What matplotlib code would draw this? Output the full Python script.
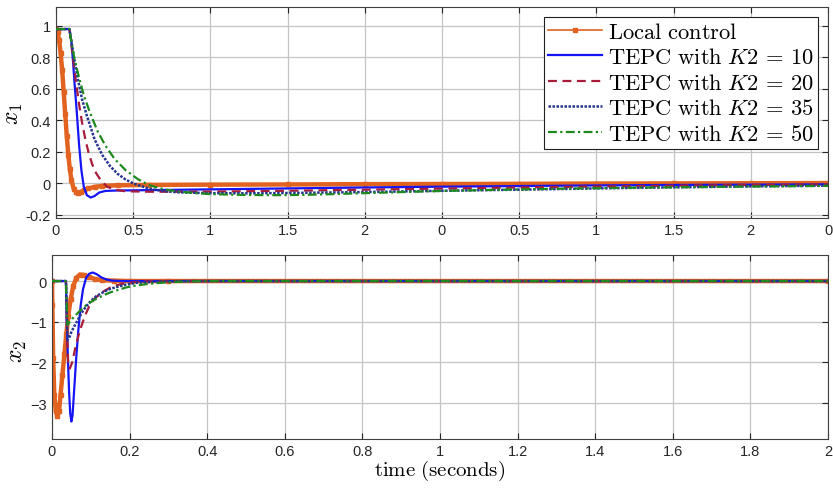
import matplotlib
matplotlib.use('Agg')
import matplotlib.pyplot as plt
from matplotlib.lines import Line2D

plt.rcParams['font.family'] = ['Liberation Sans', 'DejaVu Sans']
plt.rcParams['mathtext.fontset'] = 'cm'

# state x1 (upper panel, 0..5 on the axis, labels wrap every 2.5)
t1_local = [0, 0.01, 0.02, 0.03, 0.04, 0.05, 0.06, 0.07, 0.08, 0.09, 0.1, 0.115, 0.13, 0.145,
            0.16, 0.18, 0.21, 0.25, 0.3, 0.4, 0.6, 1.0, 1.5, 2.0, 2.5, 3.0, 3.5, 4.0, 4.5, 5.0]
x1_local = [0.98, 0.96, 0.91, 0.83, 0.72, 0.58, 0.44, 0.3, 0.18, 0.09, 0.02, -0.035, -0.055, -0.06,
            -0.055, -0.045, -0.032, -0.022, -0.016, -0.012, -0.01, -0.008, -0.007, -0.005, -0.004,
            -0.003, -0.001, 0.0, 0.001, 0.002]

t1_k10 = [0, 0.087, 0.1, 0.11, 0.12, 0.135, 0.15, 0.165, 0.18, 0.2, 0.225, 0.25, 0.28, 0.32,
          0.4, 0.6, 1.0, 1.5, 2.0, 2.5, 3.0, 3.5, 4.0, 4.5, 5.0]
x1_k10 = [0.98, 0.98, 0.9, 0.78, 0.64, 0.45, 0.24, 0.08, -0.02, -0.075, -0.09, -0.08, -0.058,
          -0.048, -0.045, -0.043, -0.038, -0.032, -0.026, -0.021, -0.017, -0.013, -0.01, -0.008, -0.006]

t1_k20 = [0, 0.087, 0.1, 0.115, 0.13, 0.15, 0.17, 0.19, 0.21, 0.235, 0.26, 0.29, 0.33, 0.38,
          0.45, 0.6, 0.8, 1.0, 1.5, 2.0, 2.5, 3.0, 3.5, 4.0, 4.5, 5.0]
x1_k20 = [0.98, 0.98, 0.88, 0.76, 0.64, 0.5, 0.38, 0.28, 0.2, 0.12, 0.065, 0.02, -0.02, -0.04,
          -0.05, -0.053, -0.053, -0.052, -0.047, -0.04, -0.033, -0.026, -0.02, -0.015, -0.01, -0.006]

t1_k35 = [0, 0.087, 0.1, 0.12, 0.14, 0.17, 0.2, 0.25, 0.3, 0.35, 0.4, 0.45, 0.5, 0.6, 0.7, 0.8,
          1.0, 1.25, 1.5, 2.0, 2.5, 3.0, 3.5, 4.0, 4.5, 5.0]
x1_k35 = [0.98, 0.98, 0.9, 0.78, 0.67, 0.53, 0.43, 0.28, 0.18, 0.11, 0.06, 0.025, 0.0, -0.033,
          -0.05, -0.057, -0.062, -0.063, -0.061, -0.055, -0.047, -0.04, -0.032, -0.025, -0.019, -0.014]

t1_k50 = [0, 0.087, 0.1, 0.12, 0.15, 0.18, 0.22, 0.27, 0.32, 0.38, 0.45, 0.53, 0.6, 0.7, 0.8,
          0.9, 1.0, 1.2, 1.4, 1.6, 1.8, 2.0, 2.5, 3.0, 3.5, 4.0, 4.5, 5.0]
x1_k50 = [0.98, 0.98, 0.9, 0.79, 0.67, 0.56, 0.45, 0.33, 0.24, 0.155, 0.085, 0.027, -0.01, -0.038,
          -0.052, -0.062, -0.068, -0.073, -0.075, -0.073, -0.068, -0.062, -0.048, -0.038, -0.03,
          -0.025, -0.02, -0.016]

# state x2 (lower panel, time in seconds)
t2_local = [0, 0.001, 0.003, 0.006, 0.01, 0.014, 0.018, 0.022, 0.027, 0.032, 0.037, 0.042, 0.048,
            0.055, 0.063, 0.072, 0.082, 0.095, 0.11, 0.13, 0.16, 0.2, 0.3, 2.0]
x2_local = [0, -0.6, -1.9, -2.8, -3.2, -3.32, -3.2, -2.8, -2.3, -1.8, -1.3, -0.85, -0.45, -0.12,
            0.08, 0.16, 0.15, 0.1, 0.05, 0.02, 0.01, 0.0, 0.0, 0.0]

t2_k10 = [0, 0.036, 0.038, 0.041, 0.044, 0.047, 0.05, 0.053, 0.057, 0.062, 0.068, 0.074, 0.08,
          0.088, 0.096, 0.105, 0.115, 0.127, 0.14, 0.155, 0.18, 0.22, 2.0]
x2_k10 = [0, 0, -0.9, -1.9, -2.7, -3.25, -3.45, -3.3, -2.7, -1.95, -1.2, -0.6, -0.2, 0.08, 0.18,
          0.21, 0.17, 0.09, 0.04, 0.01, 0.0, 0.0, 0.0]

t2_k20 = [0, 0.036, 0.039, 0.042, 0.046, 0.052, 0.06, 0.068, 0.076, 0.086, 0.097, 0.11, 0.13,
          0.15, 0.175, 0.2, 0.23, 0.3, 2.0]
x2_k20 = [0, 0, -1.2, -2.12, -2.15, -2.0, -1.65, -1.35, -1.1, -0.83, -0.6, -0.43, -0.27, -0.16,
          -0.08, -0.04, -0.01, 0, 0]

t2_k35 = [0, 0.036, 0.038, 0.04, 0.045, 0.05, 0.057, 0.064, 0.072, 0.08, 0.09, 0.1, 0.113, 0.127,
          0.145, 0.165, 0.19, 0.22, 0.26, 0.3, 0.35, 2.0]
x2_k35 = [0, 0, -0.8, -1.45, -1.38, -1.25, -1.12, -1.0, -0.86, -0.73, -0.6, -0.49, -0.38, -0.3,
          -0.21, -0.15, -0.09, -0.04, -0.02, -0.01, 0, 0]

t2_k50 = [0, 0.036, 0.038, 0.04, 0.046, 0.053, 0.062, 0.072, 0.083, 0.095, 0.106, 0.12, 0.135,
          0.15, 0.17, 0.19, 0.21, 0.24, 0.27, 0.3, 0.35, 0.4, 2.0]
x2_k50 = [0, 0, -0.6, -1.08, -1.0, -0.92, -0.83, -0.73, -0.63, -0.55, -0.48, -0.41, -0.34, -0.28,
          -0.22, -0.16, -0.12, -0.08, -0.05, -0.03, -0.01, 0, 0]

top_ticks = [0, 0.5, 1, 1.5, 2, 2.5, 3, 3.5, 4, 4.5, 5]
top_ticklabels = ['0', '0.5', '1', '1.5', '2', '0', '0.5', '1', '1.5', '2', '0']

labels = [r'$\mathrm{Local\ control}$',
          r'$\mathrm{TEPC\ with\ }K2\,=\,10$',
          r'$\mathrm{TEPC\ with\ }K2\,=\,20$',
          r'$\mathrm{TEPC\ with\ }K2\,=\,35$',
          r'$\mathrm{TEPC\ with\ }K2\,=\,50$']

C_LOCAL = '#E2621F'
C_K10 = '#1414F5'
C_K20 = '#A81C3A'
C_K35 = '#22358F'
C_K50 = '#1E8A1E'

TEPC_STYLE = [
    dict(color=C_K10, ls='-', lw=1.6),
    dict(color=C_K20, ls=(0, (4, 2.5)), lw=1.6),
    dict(color=C_K35, ls=(0, (1, 0.6)), lw=1.8),
    dict(color=C_K50, ls=(0, (4, 1.5, 1, 1.5)), lw=1.6),
]


def style_axes(ax):
    ax.grid(True, color='#c4c4c4', lw=0.9)
    ax.set_axisbelow(True)
    ax.tick_params(direction='in', top=True, right=True, labelsize=10.5,
                   colors='#262626', length=4, width=0.8)
    for sp in ax.spines.values():
        sp.set_color('#404040')
        sp.set_linewidth(0.8)


fig = plt.figure(figsize=(8.33, 4.89), dpi=100)
ax1 = fig.add_axes([0.0672, 0.5521, 0.9268, 0.4315])
ax2 = fig.add_axes([0.0624, 0.1002, 0.9316, 0.3763])

# upper panel
ax1.plot(t1_local, x1_local, color=C_LOCAL, lw=3.2, marker='s', ms=2.5, zorder=2)
for (t, x), st in zip([(t1_k10, x1_k10), (t1_k20, x1_k20), (t1_k35, x1_k35), (t1_k50, x1_k50)],
                      TEPC_STYLE):
    ax1.plot(t, x, zorder=3, **st)
ax1.set_xlim(0, 5)
ax1.set_ylim(-0.22, 1.12)
ax1.set_xticks(top_ticks)
ax1.set_xticklabels(top_ticklabels)
ax1.set_yticks([-0.2, 0, 0.2, 0.4, 0.6, 0.8, 1])
ax1.set_yticklabels(['-0.2', '0', '0.2', '0.4', '0.6', '0.8', '1'])
ax1.set_ylabel(r'$x_1$', fontsize=17)
ax1.yaxis.set_label_coords(-0.04, 0.5)
style_axes(ax1)

handles = [Line2D([], [], color=C_LOCAL, lw=1.2, marker='s', ms=2.5)]
handles += [Line2D([], [], **st) for st in TEPC_STYLE]
leg = ax1.legend(handles, labels, loc='upper right', fontsize=16.2, numpoints=1,
                 handlelength=2.4, handletextpad=0.25, labelspacing=0.2,
                 borderpad=0.2, borderaxespad=0.45, fancybox=False, framealpha=1)
leg.get_frame().set_edgecolor('#202020')
leg.get_frame().set_linewidth(0.8)

# lower panel
ax2.plot(t2_local, x2_local, color=C_LOCAL, lw=3.2, marker='s', ms=2.5, zorder=2)
for (t, x), st in zip([(t2_k10, x2_k10), (t2_k20, x2_k20), (t2_k35, x2_k35), (t2_k50, x2_k50)],
                      TEPC_STYLE):
    ax2.plot(t, x, zorder=3, **st)
ax2.set_xlim(0, 2)
ax2.set_ylim(-3.88, 0.64)
ax2.set_xticks([0, 0.2, 0.4, 0.6, 0.8, 1, 1.2, 1.4, 1.6, 1.8, 2])
ax2.set_xticklabels(['0', '0.2', '0.4', '0.6', '0.8', '1', '1.2', '1.4', '1.6', '1.8', '2'])
ax2.set_yticks([-3, -2, -1, 0])
ax2.set_ylabel(r'$x_2$', fontsize=17)
ax2.yaxis.set_label_coords(-0.03, 0.48)
ax2.set_xlabel(r'$\mathrm{time\ (seconds)}$', fontsize=15, labelpad=0)
style_axes(ax2)

fig.savefig('out.png', dpi=100)
